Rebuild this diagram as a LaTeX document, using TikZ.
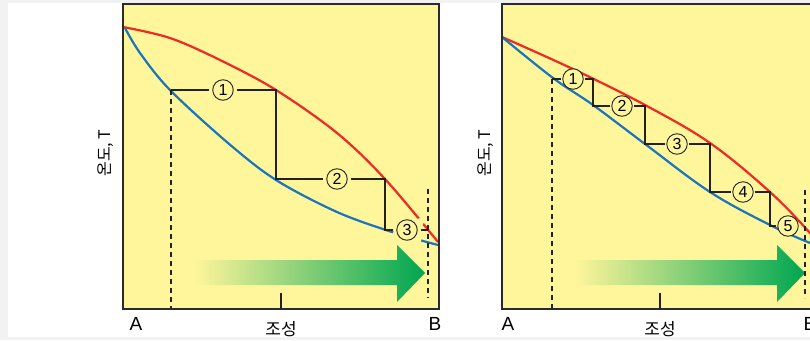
\documentclass[tikz,border=0pt]{standalone}
\usepackage{fontspec}
\setmainfont{Liberation Sans}
\newfontfamily\kr{Noto Sans CJK KR}
\definecolor{bgy}{HTML}{FFF59B}
\definecolor{cred}{HTML}{EE2A24}
\definecolor{cblue}{HTML}{1B75BC}
\definecolor{cgreen}{HTML}{00A651}
\definecolor{ink}{HTML}{222222}
\definecolor{frm}{HTML}{2B2B2B}
\definecolor{pagegray}{HTML}{F2F2F2}
\begin{document}
\begin{tikzpicture}[x=1pt,y=-1pt,
  curvered/.style={draw=cred,line width=2.2pt},
  curveblue/.style={draw=cblue,line width=2.2pt},
  stepline/.style={draw=ink,line width=2.3pt},
  dline/.style={draw=ink,line width=2.3pt,dash pattern=on 5pt off 4pt},
  num/.style={circle,draw=ink,line width=0.9pt,fill=bgy,minimum size=20.5pt,inner sep=0pt,outer sep=4pt,font=\fontsize{16}{16}\selectfont},
  numb/.style={num,outer sep=1.5pt},
  frame/.style={draw=frm,line width=2.5pt},
  arrowshade/.style={left color=bgy,right color=cgreen},
  lab/.style={font=\fontsize{19}{19}\selectfont},
  klab/.style={font=\kr\fontsize{17}{17}\selectfont},
  ylab/.style={font=\kr\fontsize{16}{16}\selectfont,rotate=90}
]
\useasboundingbox (0,0) rectangle (810,340);
\clip (0,0) rectangle (810,340);
\fill[pagegray] (0,0) rectangle (810,340);
\fill[white] (8,3) rectangle (810,337);

% ================= LEFT PANEL =================
\fill[bgy] (123,4) rectangle (439,309);
\draw[curvered] plot[smooth,tension=0.55] coordinates {(123,27) (170,38) (220,60) (276,90) (337,133) (385,179) (438,242)};
\draw[curveblue] plot[smooth,tension=0.55] coordinates {(125,28) (140,53) (170,90) (228,143) (276,180) (337,212) (392,232) (438,245)};
% gaps
\fill[bgy] (407,237) circle (14.5);
\fill[bgy] (420,222) circle (4);
% arrow
\path[arrowshade] (195,260) -- (397,260) -- (397,245) -- (425,273) -- (397,302) -- (397,285) -- (195,285) -- cycle;
% coordinates
\coordinate (L1) at (171,90);
\coordinate (L2) at (276,90);
\coordinate (L3) at (276,179);
\coordinate (L4) at (385,179);
\coordinate (L5) at (385,230);
\coordinate (L6) at (428,230);
\coordinate (Ld1) at (171,310);
\coordinate (Lr1) at (428,189);
\coordinate (Lr2) at (428,298);
\coordinate (Lt1) at (281,293);
\coordinate (Lt2) at (281,309);
% dashed
\draw[dline] (L1) -- (Ld1);
\draw[dline] (Lr1) -- (Lr2);
% steps
\node[num] (n1) at (223,90) {1};
\node[num] (n2) at (337,179) {2};
\node[num] (n3) at (407,230) {3};
\draw[stepline] (L1) -- (n1);
\draw[stepline] (n1) -- (L2) -- (L3) -- (n2);
\draw[stepline] (n2) -- (L4) -- (L5) -- (n3);
\draw[stepline] (n3) -- (L6);
\draw[frame] (123,4) rectangle (439,309);
\draw[stepline] (Lt1) -- (Lt2);
\node[lab] (la) at (136,324) {A};
\node[lab] (lb) at (435,324) {B};
\node[klab] (lc) at (281,329) {조성};
\node[ylab] (ly) at (106,153) {온도, T};

% ================= RIGHT PANEL =================
\fill[bgy] (502,4) rectangle (830,309);
\draw[curvered] plot[smooth,tension=0.6] coordinates {(502,37) (575,70) (645,105) (710,143) (770,192) (810,233) (825,252)};
\draw[curveblue] plot[smooth,tension=0.6] coordinates {(502,37) (553,78) (593,105) (645,144) (710,192) (770,225) (810,243) (825,248)};
\path[arrowshade] (575,260) -- (777,260) -- (777,245) -- (805,273) -- (777,302) -- (777,285) -- (575,285) -- cycle;
\coordinate (R1) at (552,79);
\coordinate (R2) at (593,79);
\coordinate (R3) at (593,106);
\coordinate (R4) at (645,106);
\coordinate (R5) at (645,144);
\coordinate (R6) at (710,144);
\coordinate (R7) at (710,192);
\coordinate (R8) at (770,192);
\coordinate (R9) at (770,226);
\coordinate (Rd1) at (552,310);
\coordinate (Rr1) at (805,190);
\coordinate (Rr2) at (805,298);
\coordinate (Rt1) at (660,293);
\coordinate (Rt2) at (660,309);
\draw[dline] (R1) -- (Rd1);
\draw[dline] (Rr1) -- (Rr2);
\node[numb] (m1) at (573,79) {1};
\node[numb] (m2) at (622,106) {2};
\node[numb] (m3) at (677,144) {3};
\node[numb] (m4) at (743,192) {4};
\node[numb] (m5) at (788,226) {5};
\draw[stepline] (R1) -- (m1);
\draw[stepline] (m1) -- (R2) -- (R3) -- (m2);
\draw[stepline] (m2) -- (R4) -- (R5) -- (m3);
\draw[stepline] (m3) -- (R6) -- (R7) -- (m4);
\draw[stepline] (m4) -- (R8) -- (R9) -- (m5);
\draw[frame] (502,4) rectangle (830,309);
\draw[stepline] (Rt1) -- (Rt2);
\node[lab] (ra) at (508,324) {A};
\node[lab] (rb) at (810,324) {B};
\node[klab] (rc) at (660,329) {조성};
\node[ylab] (ry) at (486,153) {온도, T};
\end{tikzpicture}
\end{document}
